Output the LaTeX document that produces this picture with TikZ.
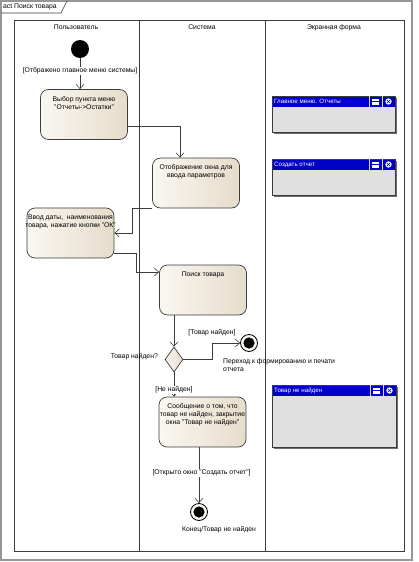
\documentclass[tikz,border=0pt]{standalone}
\usepackage{fontspec}
\setmainfont{Liberation Sans}
\usetikzlibrary{arrows.meta,shapes.geometric,calc}
\definecolor{lanegray}{RGB}{60,60,60}
\definecolor{framegray}{RGB}{150,150,150}
\definecolor{actl}{RGB}{250,247,242}
\definecolor{actr}{RGB}{230,220,202}
\definecolor{titleblue}{RGB}{0,0,200}
\definecolor{winbody}{RGB}{224,224,224}
\definecolor{shadowgray}{RGB}{110,110,110}
\newcommand\acttext[1]{\parbox[c][36pt][t]{86pt}{\centering #1}}
\newcommand\drawwin[6]{%
  \fill[shadowgray] (#2+2,#3+2) rectangle (#4+2,#5+2);
  \fill[winbody] (#2,#3) rectangle (#4,#5);
  \fill[titleblue] (#2,#3) rectangle (#4,#3+11);
  \draw[lanegray, line width=0.8pt] (#2,#3) rectangle (#4,#5);
  \draw[white!70!gray, line width=0.6pt] (#4-26,#3) -- (#4-26,#3+11) (#4-13,#3) -- (#4-13,#3+11);
  \fill[white] (#4-23.5,#3+2.5) rectangle (#4-16,#3+8.5);
  \draw[titleblue, line width=1pt] (#4-23.5,#3+5.5) -- (#4-16,#3+5.5);
  \fill[white] (#4-6.5,#3+5.5) circle (3.2);
  \draw[titleblue, line width=0.6pt] (#4-8.3,#3+3.7) -- (#4-4.7,#3+7.3) (#4-8.3,#3+7.3) -- (#4-4.7,#3+3.7);
  \node[wintitle] (#1) at (#2+2,#3+5.7) {#6};
}
\begin{document}
\begin{tikzpicture}[x=1pt,y=-1pt,
  font=\fontsize{6.8}{8}\selectfont,
  actbox/.style={draw=lanegray, line width=0.7pt, rounded corners=8pt,
    left color=actl, right color=actr, minimum width=87pt, minimum height=50pt,
    inner sep=0pt},
  flow/.style={draw=lanegray, line width=0.6pt, -{Straight Barb[length=4.5pt,width=8pt]}},
  guard/.style={fill=white, inner sep=1pt},
  plain/.style={inner sep=0pt},
  wintitle/.style={anchor=west, text=white, inner sep=0pt, font=\fontsize{6.2}{7}\selectfont},
  lane/.style={draw=lanegray, line width=0.8pt}
]
\useasboundingbox (0,0) rectangle (419,562);
% outer frame
\draw[framegray, line width=1.2pt] (1,1) rectangle (412,560);
\draw[lanegray, line width=0.6pt] (1,13) -- (61,13) -- (67,1);
\node[plain, anchor=west] (frametitle) at (3,7) {act Поиск товара};
% lanes
\draw[lane] (14,20) rectangle (404,551);
\draw[lane] (139,20) -- (139,551) (265,20) -- (265,551);
\node[plain] (lane1) at (76,27.5) {Пользователь};
\node[plain] (lane2) at (202,27.5) {Система};
\node[plain] (lane3) at (334,27.5) {Экранная форма};
% nodes
\node[circle, fill=black, minimum size=18pt, inner sep=0pt] (init) at (80,49) {};
\node[actbox] (a1) at (84,114.5) {\acttext{Выбор пункта меню\\"Отчеты->Остатки"}};
\node[actbox] (a2) at (196,183) {\acttext{Отображение окна для\\ввода параметров}};
\node[actbox] (a3) at (70.5,233) {\acttext{\makebox[86pt]{Ввод даты,\ \ наименования}\\\makebox[86pt]{товара, нажатие кнопки "ОК"}}};
\node[actbox] (a4) at (203,290) {\acttext{Поиск товара}};
\node[diamond, draw=lanegray, line width=0.7pt, left color=actl, right color=actr,
  minimum width=18pt, minimum height=25pt, inner sep=0pt] (d) at (174,359.5) {};
\node[actbox] (a5) at (202.5,422) {\acttext{Сообщение о том, что\\товар не найден, закрытие\\окна "Товар не найден"}};
\node[circle, draw=black, line width=0.8pt, fill=actl, minimum size=17pt, inner sep=0pt] (f1) at (249,343) {};
\fill[black] (f1.center) circle (5.6);
\node[circle, draw=black, line width=0.8pt, fill=actl, minimum size=17pt, inner sep=0pt] (f2) at (199,512) {};
\fill[black] (f2.center) circle (5.6);
% connectors
\draw[flow] (init.south) -- (init.south |- a1.north);
\draw[flow] ($(a1.east)+(0,11.5)$) -| ($(a2.north)+(-16,0)$);
\draw[flow] ($(a2.west)+(0,25)$) -- ++(-20,0) |- (a3.east);
\draw[flow] ($(a3.east)+(0,20)$) -- ++(22,0) |- ($(a4.west)+(0,-18)$);
\draw[flow] (d.north |- a4.south) -- (d.north);
\draw[flow] (d.east) -- ++(29,0) |- (f1.west);
\draw[flow] (d.south) -- (d.south |- a5.north);
\draw[flow] (f2.north |- a5.south) -- (f2.north);
% guards and labels
\node[guard] (g1) at (80,71) {[Отбражено главное меню системы]};
\node[guard] (g2) at (212,333) {[Товар найден]};
\node[guard] (g3) at (174,390) {[Не найден]};
\node[guard] (g4) at (201.5,473) {[Открыто окно "Создать отчет"]};
\node[plain, anchor=east] (dq) at (158,357) {Товар найден?};
\node[plain, anchor=north west, align=left] (f1lab) at (223,358) {Переход к формированию и печати\\отчета};
\node[plain] (f2lab) at (219,530) {Конец/Товар не найден};
% screen forms
\drawwin{w1}{272}{96}{395}{132}{Главное меню. Отчеты}
\drawwin{w2}{272}{159}{395}{195}{Создать отчет}
\drawwin{w3}{272}{385}{396}{447}{Товар не найден}
\end{tikzpicture}
\end{document}
